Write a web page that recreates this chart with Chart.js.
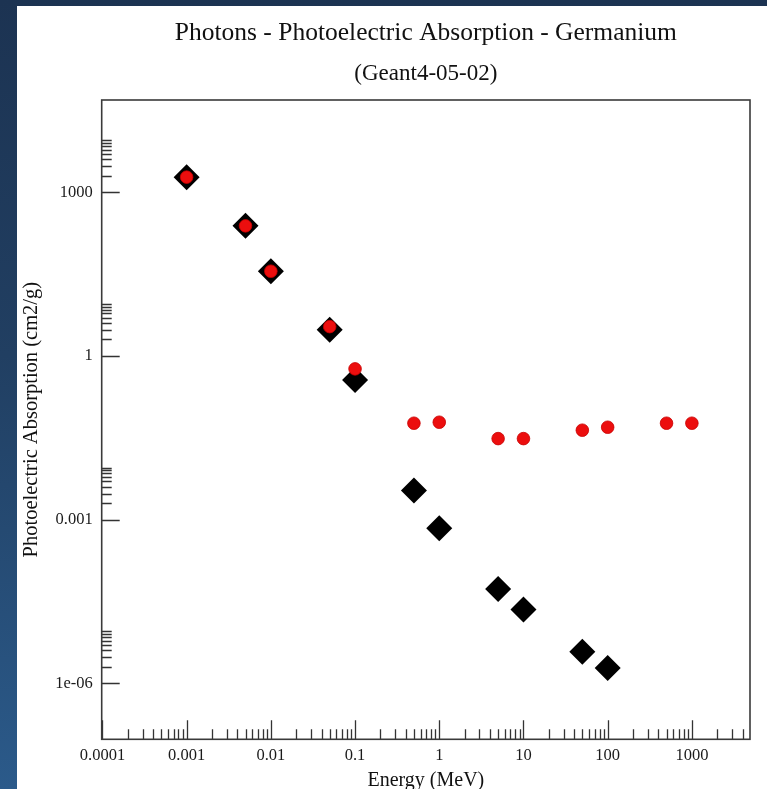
<!DOCTYPE html>
<html>
<head>
<meta charset="utf-8">
<script src="https://cdn.jsdelivr.net/npm/chart.js@4/dist/chart.umd.min.js"></script>
<style>
  html, body { margin: 0; padding: 0; }
  body {
    width: 767px; height: 789px; overflow: hidden; position: relative;
    background: linear-gradient(to bottom, #1c3352 0%, #213f62 45%, #2b5a8a 100%);
  }
  #panel { position: absolute; left: 17px; top: 6px; width: 750px; height: 783px; background: #ffffff; }
  canvas { display: block; }
</style>
</head>
<body>
<div id="panel"><canvas id="c" width="750" height="783"></canvas></div>
<script>
// ---- data ----
const energyBlack = [0.001, 0.005, 0.01, 0.05, 0.1, 0.5, 1, 5, 10, 50, 100];
const absorptionBlack = [1890, 242, 35.7, 3.0, 0.363, 0.0034, 6.95e-4, 5.36e-5, 2.24e-5, 3.8e-6, 1.91e-6];
const energyRed = [0.001, 0.005, 0.01, 0.05, 0.1, 0.5, 1, 5, 10, 50, 100, 500, 1000];
const absorptionRed = [1890, 242, 35.7, 3.44, 0.578, 0.0584, 0.0609, 0.0305, 0.0305, 0.0435, 0.0493, 0.0584, 0.0584];

const xMajorTicks = [1e-4, 1e-3, 1e-2, 1e-1, 1, 10, 100, 1000];
const xTickLabels = ['0.0001', '0.001', '0.01', '0.1', '1', '10', '100', '1000'];
const yMajorTicks = [1e-6, 1e-3, 1, 1000];
const yTickLabels = ['1e-06', '0.001', '1', '1000'];
const minorMultipliers = [2, 3, 4, 5, 6, 7, 8, 9];

const titleText = 'Photons - Photoelectric Absorption - Germanium';
const subtitleText = '(Geant4-05-02)';
const xTitle = 'Energy (MeV)';
const yTitle = 'Photoelectric Absorption (cm2/g)';

const X_MIN = 9.8e-5, X_MAX = 4900;
const Y_MIN = 9.4e-8, Y_MAX = 4.9e4;

function toPoints(xs, ys) { return xs.map((x, i) => ({ x: x, y: ys[i] })); }

function xTicksBuilder(scale) {
  const t = [];
  xMajorTicks.forEach(v => {
    t.push({ value: v, isMaj: true });
    minorMultipliers.forEach(m => { const mv = v * m; if (mv <= X_MAX) t.push({ value: mv, isMaj: false }); });
  });
  t.sort((a, b) => a.value - b.value);
  scale.ticks = t;
}
function yTicksBuilder(scale) {
  const t = [];
  yMajorTicks.forEach(v => {
    t.push({ value: v, isMaj: true });
    minorMultipliers.forEach(m => t.push({ value: v * m, isMaj: false }));
  });
  t.sort((a, b) => a.value - b.value);
  scale.ticks = t;
}
function labelFor(majors, labels, value) {
  for (let i = 0; i < majors.length; i++) {
    if (Math.abs(value / majors[i] - 1) < 1e-6) return labels[i];
  }
  return '';
}

const frameAndTicks = {
  id: 'frameAndTicks',
  beforeDatasetsDraw(chart) {
    const ctx = chart.ctx, a = chart.chartArea;
    const xs = chart.scales.x, ys = chart.scales.y;
    ctx.save();
    ctx.strokeStyle = '#333333';
    ctx.lineWidth = 1.3;
    ctx.beginPath();
    xs.ticks.forEach(t => {
      const px = Math.round(xs.getPixelForValue(t.value)) + 0.5;
      const len = t.isMaj ? 19 : 10;
      ctx.moveTo(px, a.bottom);
      ctx.lineTo(px, a.bottom - len);
    });
    ys.ticks.forEach(t => {
      const py = Math.round(ys.getPixelForValue(t.value)) + 0.5;
      const len = t.isMaj ? 18 : 10;
      ctx.moveTo(a.left, py);
      ctx.lineTo(a.left + len, py);
    });
    ctx.stroke();
    ctx.lineWidth = 1.6;
    ctx.strokeStyle = '#3a3a3a';
    ctx.strokeRect(a.left, a.top, a.right - a.left, a.bottom - a.top);
    ctx.restore();
  }
};

Chart.defaults.font.family = "'Liberation Serif', 'Times New Roman', serif";
Chart.defaults.color = '#1a1a1a';

new Chart(document.getElementById('c'), {
  type: 'scatter',
  data: {
    datasets: [
      {
        label: 'red',
        data: toPoints(energyRed, absorptionRed),
        pointStyle: 'circle',
        pointRadius: 6.3,
        backgroundColor: 'rgb(236, 14, 14)',
        borderColor: 'rgb(200, 0, 0)',
        borderWidth: 0.8
      },
      {
        label: 'black',
        data: toPoints(energyBlack, absorptionBlack),
        pointStyle: 'rectRot',
        pointRadius: 13,
        backgroundColor: '#000000',
        borderColor: '#000000',
        borderWidth: 0
      }
    ]
  },
  options: {
    responsive: false,
    animation: false,
    events: [],
    layout: { padding: { left: 0, top: 0, right: 17, bottom: 0 } },
    plugins: {
      legend: { display: false },
      tooltip: { enabled: false },
      title: {
        display: true, text: titleText, fullSize: false,
        font: { size: 25.5, weight: 'normal', lineHeight: 1.2 },
        color: '#111111',
        padding: { top: 12, bottom: 0 }
      },
      subtitle: {
        display: true, text: subtitleText, fullSize: false,
        font: { size: 23, weight: 'normal', lineHeight: 1.2 },
        color: '#111111',
        padding: { top: 11.5, bottom: 12.3 }
      }
    },
    scales: {
      x: {
        type: 'logarithmic', position: 'bottom',
        min: X_MIN, max: X_MAX,
        afterBuildTicks: xTicksBuilder,
        afterFit: s => { s.height = 49.7; },
        grid: { display: false, drawTicks: false },
        border: { display: false },
        ticks: {
          autoSkip: false, maxRotation: 0, minRotation: 0, padding: 6,
          font: { size: 16.5 }, color: '#1a1a1a',
          callback: (v) => labelFor(xMajorTicks, xTickLabels, v)
        },
        title: {
          display: true, text: xTitle,
          font: { size: 20, lineHeight: 1 }, color: '#111111',
          padding: { top: 0, bottom: -2 }
        }
      },
      y: {
        type: 'logarithmic', position: 'left',
        min: Y_MIN, max: Y_MAX,
        afterBuildTicks: yTicksBuilder,
        afterFit: s => { s.width = 84.7; },
        grid: { display: false, drawTicks: false },
        border: { display: false },
        ticks: {
          autoSkip: false, padding: 9,
          font: { size: 16.5 }, color: '#1a1a1a',
          callback: (v) => labelFor(yMajorTicks, yTickLabels, v)
        },
        title: {
          display: true, text: yTitle,
          font: { size: 20.5, lineHeight: 1 }, color: '#111111',
          padding: { top: 4.4, bottom: 0 }
        }
      }
    }
  },
  plugins: [frameAndTicks]
});
</script>
</body>
</html>
